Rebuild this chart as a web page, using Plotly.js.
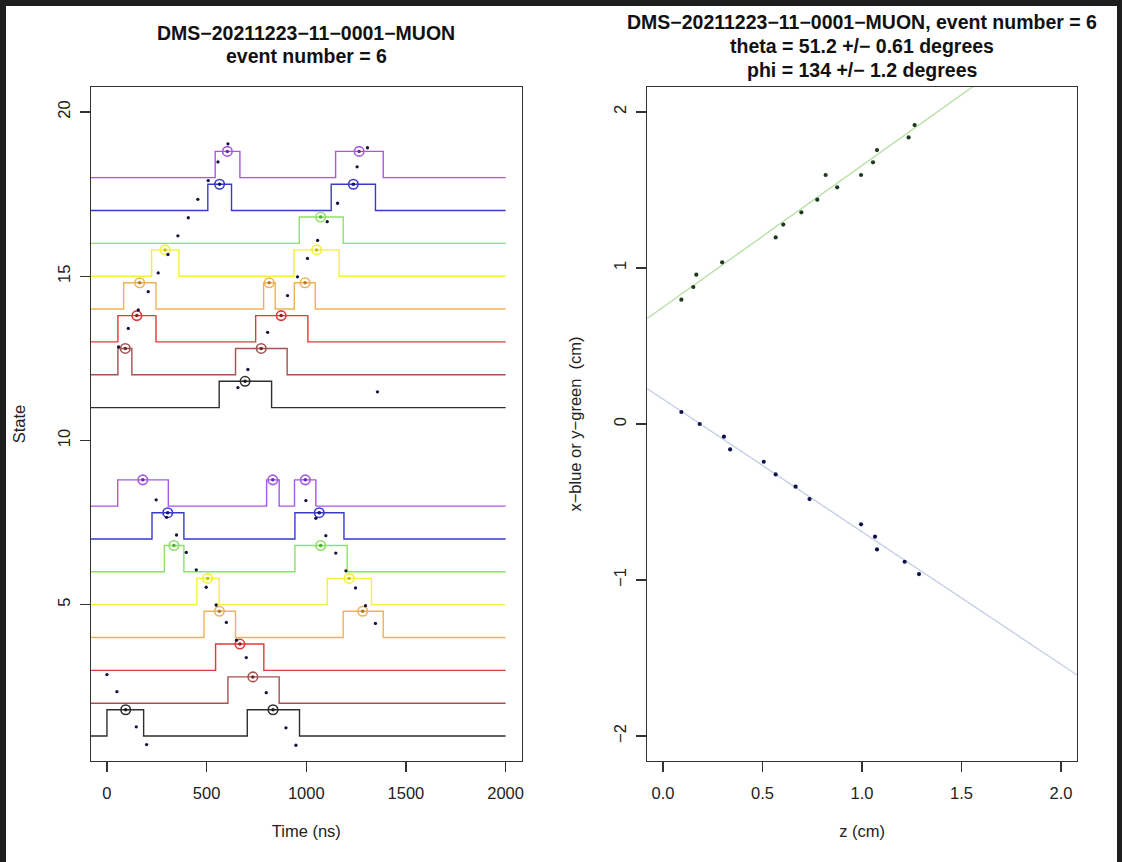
<!DOCTYPE html>
<html><head><meta charset="utf-8">
<script src="https://cdn.plot.ly/plotly-3.0.1.min.js"></script>
<style>
html,body{margin:0;padding:0;background:#1e1e1e;width:1122px;height:862px;overflow:hidden;}
#plot{position:absolute;left:6px;top:6px;width:1111px;height:856px;background:#fff;}
</style></head><body><div id="plot"></div>
<script>
// ---------------- DATA (left panel: states vs time) ----------------
const states    = [1, 2, 3, 4, 5, 6, 7, 8, 11, 12, 13, 14, 15, 16, 17, 18];
const riseTimes = [[0, 704], [607], [545], [487, 1185], [451, 1105], [288, 943], [226, 943], [54, 801, 941],
                   [563], [55, 645], [55, 746], [84, 786, 940], [224, 938], [965], [506, 1125], [543, 1147]];
const fallTimes = [[184, 966], [864], [787], [645, 1386], [563, 1327], [386, 1205], [386, 1189], [308, 864, 1048],
                   [826], [125, 904], [246, 1008], [246, 844, 1045], [361, 1165], [1185], [625, 1347], [667, 1386]];
const hitTimes  = [[94, 833], [732], [667], [564, 1283], [505, 1215], [336, 1072], [305, 1065], [180, 832, 995],
                   [693], [92, 774], [150, 874], [164, 814, 994], [292, 1052], [1072], [565, 1236], [604, 1265]];
const pulseHeight = 0.8;
const traceEnd = 2000;

const trackTimes  = [58, 107, 157, 207, 257, 306, 356, 408, 456, 508, 557, 607,
                     657, 707, 806, 906, 956, 1006, 1057, 1105, 1157, 1255, 1307, 1357,
                     0, 50, 147, 199,
                     247, 299, 349, 398, 448, 498, 548, 599, 650, 699, 799, 898, 948,
                     998, 1048, 1098, 1148, 1199, 1247, 1297, 1347];
const trackStates = [12.85, 13.41, 13.97, 14.53, 15.10, 15.66, 16.23, 16.78, 17.34, 17.91, 18.48, 19.03,
                     11.61, 12.16, 13.29, 14.41, 14.98, 15.54, 16.09, 16.66, 17.22, 18.33, 18.91, 11.48,
                     2.87, 2.35, 1.28, 0.74,
                     8.19, 7.66, 7.12, 6.59, 6.06, 5.53, 4.99, 4.46, 3.92, 3.39, 2.32, 1.25, 0.72,
                     8.17, 7.63, 7.10, 6.57, 6.03, 5.51, 4.97, 4.43];

const timeTicks  = [0, 500, 1000, 1500, 2000];
const stateTicks = [5, 10, 15, 20];

// ---------------- DATA (right panel: positions vs z) ----------------
const greenZ = [0.092, 0.152, 0.167, 0.297, 0.566, 0.604, 0.695, 0.775, 0.817, 0.875, 0.995, 1.055, 1.075, 1.234, 1.264];
const greenY = [0.797, 0.878, 0.957, 1.036, 1.196, 1.278, 1.357, 1.438, 1.596, 1.517, 1.596, 1.677, 1.756, 1.837, 1.916];
const blueZ  = [0.092, 0.184, 0.306, 0.337, 0.506, 0.566, 0.666, 0.736, 0.995, 1.065, 1.075, 1.214, 1.286];
const blueY  = [0.077, 0.000, -0.081, -0.163, -0.242, -0.323, -0.402, -0.481, -0.643, -0.722, -0.804, -0.883, -0.962];
const greenFit = {intercept: 0.749, slope: 0.908};
const blueFit  = {intercept: 0.159, slope: -0.850};
const zTicks = [0, 0.5, 1, 1.5, 2];
const posTicks = [-2, -1, 0, 1, 2];

// ---------------- STYLE / LAYOUT ----------------
const stateColors = ['#2e2e2e', '#a45252', '#e03a3a', '#eeb25a', '#f2f03a', '#8ee06a', '#3a3ac8', '#a558e2',
                     '#2e2e2e', '#a45252', '#e03a3a', '#eeb25a', '#f2f03a', '#8ee06a', '#3a3ac8', '#a558e2'];
const dotColors   = ['#1a1a1a', '#6a2a2a', '#a01818', '#b07a2a', '#c8c000', '#50b030', '#14147a', '#6a2aa0',
                     '#1a1a1a', '#6a2a2a', '#a01818', '#b07a2a', '#c8c000', '#50b030', '#14147a', '#6a2aa0'];
const timeRange  = [-80, 2080];
const stateRange = [0.24, 20.76];
const zRange     = [-0.08, 2.08];
const posRange   = [-2.16, 2.16];

const OX = 6, OY = 6, W = 1111, H = 856;
const box = {l1: 91, r1: 521.7, l2: 647.3, r2: 1077.3, top: 86.6, bottom: 761};
const mL = box.l1 - OX, mR = W - (box.r2 - OX), mT = box.top - OY, mB = H - (box.bottom - OY);
const pw = W - mL - mR, ph = H - mT - mB;
const FONT = '"Liberation Sans", Arial, Helvetica, sans-serif';

function px(X) { return (X - OX - mL) / pw; }
function py(Y) { return (H - (Y - OY) - mB) / ph; }

const traces = [];
states.forEach((s, i) => {
  const xs = [timeRange[0]], ys = [s];
  riseTimes[i].forEach((r, k) => {
    const f = fallTimes[i][k];
    xs.push(r, r, f, f); ys.push(s, s + pulseHeight, s + pulseHeight, s);
  });
  xs.push(traceEnd); ys.push(s);
  traces.push({type: 'scatter', mode: 'lines', x: xs, y: ys, xaxis: 'x', yaxis: 'y',
               line: {color: stateColors[i], width: 1.4}, hoverinfo: 'skip', showlegend: false});
});
states.forEach((s, i) => {
  const ys = hitTimes[i].map(() => s + pulseHeight);
  traces.push({type: 'scatter', mode: 'markers', x: hitTimes[i], y: ys, xaxis: 'x', yaxis: 'y',
               marker: {symbol: 'circle-open', size: 9.5, color: stateColors[i], line: {width: 1.6, color: stateColors[i]}},
               showlegend: false});
  traces.push({type: 'scatter', mode: 'markers', x: hitTimes[i], y: ys, xaxis: 'x', yaxis: 'y',
               marker: {symbol: 'circle', size: 3.5, color: dotColors[i]}, showlegend: false});
});
traces.push({type: 'scatter', mode: 'markers', x: trackTimes, y: trackStates, xaxis: 'x', yaxis: 'y',
             marker: {size: 3.3, color: '#14143c'}, showlegend: false});

traces.push({type: 'scatter', mode: 'lines', x: zRange, y: zRange.map(z => greenFit.intercept + greenFit.slope * z),
             xaxis: 'x2', yaxis: 'y2', line: {color: '#b8e0a8', width: 1.4}, showlegend: false});
traces.push({type: 'scatter', mode: 'lines', x: zRange, y: zRange.map(z => blueFit.intercept + blueFit.slope * z),
             xaxis: 'x2', yaxis: 'y2', line: {color: '#c8d0e2', width: 1.4}, showlegend: false});
traces.push({type: 'scatter', mode: 'markers', x: greenZ, y: greenY, xaxis: 'x2', yaxis: 'y2',
             marker: {size: 4.2, color: '#1e3a1e'}, showlegend: false});
traces.push({type: 'scatter', mode: 'markers', x: blueZ, y: blueY, xaxis: 'x2', yaxis: 'y2',
             marker: {size: 4.2, color: '#12124a'}, showlegend: false});

const axisCommon = {
  showgrid: false, zeroline: false, showline: true, mirror: true, linecolor: '#333', linewidth: 1.3,
  ticks: 'outside', ticklen: 10, tickwidth: 1.2, tickcolor: '#333',
  tickfont: {family: FONT, size: 16.5, color: '#222'}, fixedrange: true
};
const d1 = (box.r1 - box.l1) / pw, d2 = (box.l2 - box.l1) / pw;
const axTitleFont = {family: FONT, size: 16.5, color: '#222'};

const titleFont = {family: FONT, size: 19.5, color: '#111', weight: 700};
function ann(text, X, Y) {
  return {text: text, xref: 'paper', yref: 'paper', x: px(X), y: py(Y), xanchor: 'center', yanchor: 'middle',
          showarrow: false, font: titleFont};
}

const layout = {
  width: W, height: H, paper_bgcolor: '#fff', plot_bgcolor: '#fff',
  margin: {l: mL, r: mR, t: mT, b: mB, pad: 0}, showlegend: false,
  font: {family: FONT, size: 16.5, color: '#222'},
  xaxis: Object.assign({}, axisCommon, {domain: [0, d1], range: timeRange, tickvals: timeTicks, anchor: 'y',
          ticklabelstandoff: 7, title: {text: 'Time (ns)', font: axTitleFont, standoff: 24}}),
  yaxis: Object.assign({}, axisCommon, {domain: [0, 1], range: stateRange, tickvals: stateTicks, anchor: 'x',
          tickangle: -90, ticklabelstandoff: 3, title: {text: 'State', font: axTitleFont, standoff: 25}}),
  xaxis2: Object.assign({}, axisCommon, {domain: [d2, 1], range: zRange, tickvals: zTicks, tickformat: '.1f', anchor: 'y2',
          ticklabelstandoff: 7, title: {text: 'z (cm)', font: axTitleFont, standoff: 24}}),
  yaxis2: Object.assign({}, axisCommon, {domain: [0, 1], range: posRange, tickvals: posTicks, anchor: 'x2',
          tickangle: -90, ticklabelstandoff: 3, title: {text: 'x\u2212blue or y\u2212green  (cm)', font: axTitleFont, standoff: 25}}),
  annotations: [
    ann('DMS\u221220211223\u221211\u22120001\u2212MUON', (box.l1 + box.r1) / 2, 33),
    ann('event number = 6', (box.l1 + box.r1) / 2, 56),
    ann('DMS\u221220211223\u221211\u22120001\u2212MUON, event number = 6', (box.l2 + box.r2) / 2, 22),
    ann('theta = 51.2 +/\u2212 0.61 degrees', (box.l2 + box.r2) / 2, 46),
    ann('phi = 134 +/\u2212 1.2 degrees', (box.l2 + box.r2) / 2, 70)
  ]
};

Plotly.newPlot('plot', traces, layout, {displayModeBar: false, staticPlot: true});
</script>
</body></html>
